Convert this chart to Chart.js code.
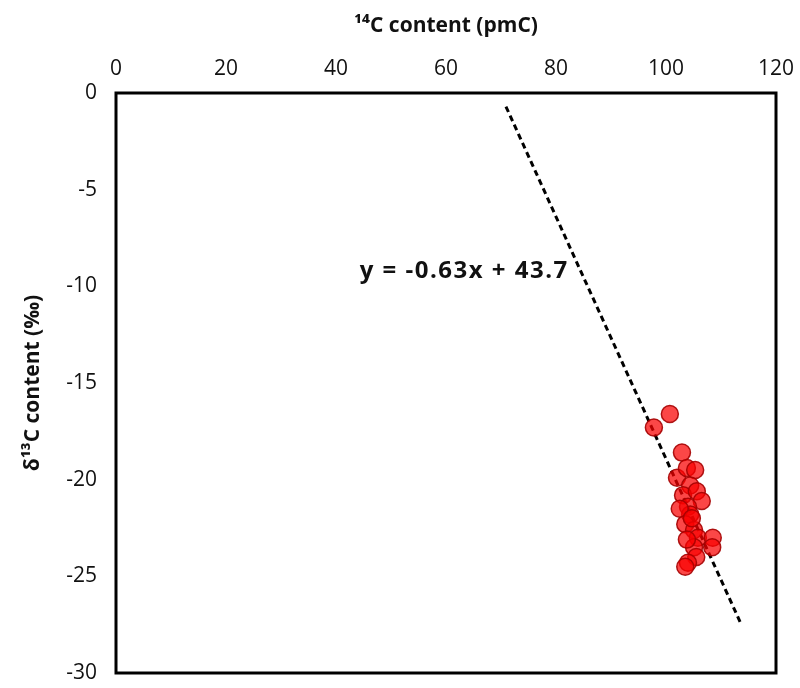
<!DOCTYPE html>
<html>
<head>
<meta charset="utf-8">
<script src="https://cdn.jsdelivr.net/npm/chart.js@4/dist/chart.umd.min.js"></script>
<style>
  html, body { margin: 0; padding: 0; background: #fff; }
  #wrap { width: 800px; height: 688px; }
</style>
</head>
<body>
<div id="wrap"><canvas id="c14Chart"></canvas></div>
<script>
// 14C (pmC) vs d13C (permil) samples
const pmC = [97.8, 100.7, 102.9, 102.0, 103.8, 105.3, 104.4, 103.1, 105.6, 106.5, 104.0, 104.4,
             102.5, 103.5, 105.1, 105.8, 108.5, 108.4, 105.1, 105.5, 104.0, 103.5, 104.7, 103.8];
const d13C = [-17.3, -16.6, -18.6, -19.9, -19.4, -19.5, -20.3, -20.8, -20.6, -21.1, -21.4, -21.8,
              -21.5, -22.3, -22.6, -23.0, -23.0, -23.5, -23.5, -24.0, -24.3, -24.5, -22.0, -23.1];

// ends of the dashed regression line
const fitX = [70.9, 113.7];
const fitY = [-0.7, -27.5];
const fitLabel = 'y = -0.63x + 43.7';

const xTicks = [0, 20, 40, 60, 80, 100, 120];
const yTicks = [0, -5, -10, -15, -20, -25, -30];

const samples = pmC.map((v, i) => ({ x: v, y: d13C[i] }));
const fitLine = fitX.map((v, i) => ({ x: v, y: fitY[i] }));

// frame round the plot plus the equation text
const framePlugin = {
  id: 'frame',
  afterDraw(chart) {
    const { ctx, chartArea: a, scales } = chart;
    ctx.save();
    ctx.strokeStyle = '#000';
    ctx.lineWidth = 3;
    ctx.strokeRect(a.left, a.top, a.right - a.left, a.bottom - a.top);
    ctx.fillStyle = '#111';
    ctx.font = 'bold 24px "Open Sans", sans-serif';
    ctx.letterSpacing = '1.5px';
    ctx.textBaseline = 'middle';
    ctx.fillText(fitLabel, scales.x.getPixelForValue(44.3), scales.y.getPixelForValue(-9.2));
    ctx.restore();
  }
};

const tickFont = { family: '"Open Sans", sans-serif', size: 21 };
const titleFont = { family: '"Open Sans", sans-serif', size: 21, weight: 'bold' };

const ctx = document.getElementById('c14Chart').getContext('2d');
new Chart(ctx, {
  type: 'scatter',
  data: {
    datasets: [
      {
        label: 'fit',
        type: 'line',
        data: fitLine,
        borderColor: '#000',
        borderWidth: 3,
        borderDash: [6, 4],
        pointRadius: 0,
        fill: false,
        order: 2
      },
      {
        label: 'samples',
        data: samples,
        backgroundColor: 'rgba(250, 0, 0, 0.72)',
        borderColor: 'rgba(165, 0, 0, 0.9)',
        borderWidth: 1.5,
        pointRadius: 8.5,
        order: 1
      }
    ]
  },
  options: {
    responsive: true,
    maintainAspectRatio: false,
    animation: false,
    layout: { padding: { left: 0, right: 24, top: 0, bottom: 15 } },
    plugins: {
      legend: { display: false },
      tooltip: { enabled: false }
    },
    scales: {
      x: {
        type: 'linear',
        position: 'top',
        min: 0,
        max: 120,
        afterBuildTicks: (s) => { s.ticks = xTicks.map(v => ({ value: v })); },
        afterFit: (s) => { s.height = 93; s.paddingLeft = 0; s.paddingRight = 0; },
        grid: { display: false, drawTicks: false },
        border: { display: false },
        ticks: { padding: 11, color: '#111', font: tickFont },
        title: {
          display: true,
          text: '¹⁴C content (pmC)',
          color: '#111',
          padding: { top: 13, bottom: 0 },
          font: titleFont
        }
      },
      y: {
        type: 'linear',
        min: -30,
        max: 0,
        afterBuildTicks: (s) => { s.ticks = yTicks.map(v => ({ value: v })); },
        afterFit: (s) => { s.width = 116; s.paddingTop = 0; s.paddingBottom = 0; },
        grid: { display: false, drawTicks: false },
        border: { display: false },
        ticks: { padding: 19, color: '#111', font: tickFont },
        title: {
          display: true,
          text: 'δ¹³C content (‰)',
          color: '#111',
          padding: { top: 20, bottom: 0 },
          font: titleFont
        }
      }
    }
  },
  plugins: [framePlugin]
});
</script>
</body>
</html>
